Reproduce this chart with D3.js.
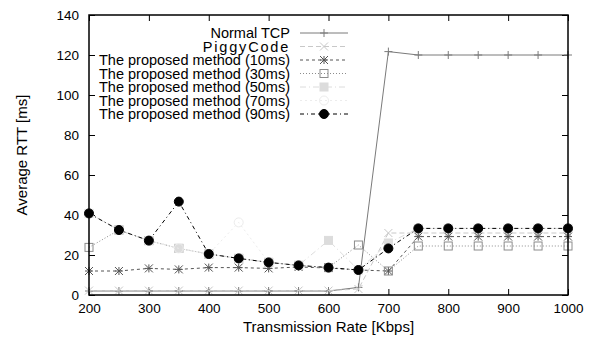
<!DOCTYPE html>
<html>
<head>
<meta charset="utf-8">
<script src="https://cdn.jsdelivr.net/npm/d3@7"></script>
<style>
  body { margin: 0; background: #fff; }
  svg { font-family: "Liberation Sans", Arial, sans-serif; }
</style>
</head>
<body>
<div id="chart"></div>
<script>
// data
const rates = [200, 250, 300, 350, 400, 450, 500, 550, 600, 650, 700, 750, 800, 850, 900, 950, 1000];
const normalTcp = [2, 2, 2, 2, 2, 2, 2, 2, 2, 3.8, 121.7, 120, 120, 120, 120, 120, 120];
const piggyCode = [2.2, 2.2, 2.2, 2.2, 2.2, 2.2, 2.2, 2.2, 2.2, 3, 31, 31, 31, 31, 31, 31, 31];
const m10 = [12, 12, 13.3, 12.8, 13.7, 13.7, 13.3, 14, 13.5, 12.5, 12, 29.2, 29.2, 29.2, 29.2, 29.2, 29.2];
const m30 = [23.8, 32.5, 27.2, 23.3, 20.5, 18.3, 16.3, 14.8, 13.7, 25, 12, 24.5, 24.5, 24.5, 24.5, 24.5, 24.5];
const m50 = [40.8, 32.5, 27.2, 23.3, 20.5, 18.3, 16.3, 14.8, 27.3, 12.5, 26, 33.3, 33.3, 33.3, 33.3, 33.3, 33.3];
const m70 = [40.8, 32.5, 27.2, 23.3, 20.5, 36.3, 16.3, 14.8, 13.7, 12.5, 23.3, 33.3, 33.3, 33.3, 33.3, 33.3, 33.3];
const m90 = [40.8, 32.5, 27.2, 46.7, 20.5, 18.3, 16.3, 14.8, 13.7, 12.5, 23.3, 33.3, 33.3, 33.3, 33.3, 33.3, 33.3];
const xTicks = [200, 300, 400, 500, 600, 700, 800, 900, 1000];
const yTicks = [0, 20, 40, 60, 80, 100, 120, 140];

const series = [
  {name: 'Normal TCP', values: normalTcp, color: '#7a7a7a', dash: null, marker: 'plus'},
  {name: 'PiggyCode', values: piggyCode, color: '#c8c8c8', dash: '5,3', marker: 'cross'},
  {name: 'The proposed method (10ms)', values: m10, color: '#555', dash: '3,3', marker: 'star'},
  {name: 'The proposed method (30ms)', values: m30, color: '#8c8c8c', dash: '1,2', marker: 'square'},
  {name: 'The proposed method (50ms)', values: m50, color: '#dcdcdc', dash: '6,3,1,3', marker: 'fsquare'},
  {name: 'The proposed method (70ms)', values: m70, color: '#ececec', dash: '2,3', marker: 'circle'},
  {name: 'The proposed method (90ms)', values: m90, color: '#000', dash: '4,3,1,3', marker: 'fcircle'}
];

const W = 598, H = 338;
const m = {left: 89, right: 30, top: 15, bottom: 43};

const svg = d3.select('#chart').append('svg').attr('width', W).attr('height', H);

const x = d3.scaleLinear().domain([200, 1000]).range([m.left, W - m.right]);
const y = d3.scaleLinear().domain([0, 140]).range([H - m.bottom, m.top]);

// ticks inside on all sides
const tk = 6;
svg.append('g').attr('transform', 'translate(0,' + (H - m.bottom) + ')')
  .call(d3.axisBottom(x).tickValues(xTicks).tickSize(-tk).tickPadding(8).tickFormat(d => d))
  .call(g => g.select('.domain').remove());
svg.append('g').attr('transform', 'translate(0,' + m.top + ')')
  .call(d3.axisTop(x).tickValues(xTicks).tickSize(-tk).tickFormat(''))
  .call(g => g.select('.domain').remove());
svg.append('g').attr('transform', 'translate(' + m.left + ',0)')
  .call(d3.axisLeft(y).tickValues(yTicks).tickSize(-tk).tickPadding(10))
  .call(g => g.select('.domain').remove());
svg.append('g').attr('transform', 'translate(' + (W - m.right) + ',0)')
  .call(d3.axisRight(y).tickValues(yTicks).tickSize(-tk).tickFormat(''))
  .call(g => g.select('.domain').remove());

svg.selectAll('.tick line').attr('stroke', '#000');
svg.selectAll('.tick text').attr('font-size', 13.5).attr('fill', '#000')
  .attr('font-family', '"Liberation Sans", Arial, sans-serif');

// markers
function drawMarker(g, type, cx, cy, color) {
  const s = 4;
  if (type === 'plus' || type === 'star') {
    g.append('path').attr('d', `M${cx - s},${cy}H${cx + s}M${cx},${cy - s}V${cy + s}`)
      .attr('stroke', color).attr('stroke-width', 1).attr('fill', 'none');
  }
  if (type === 'cross' || type === 'star') {
    g.append('path').attr('d', `M${cx - s},${cy - s}L${cx + s},${cy + s}M${cx - s},${cy + s}L${cx + s},${cy - s}`)
      .attr('stroke', color).attr('stroke-width', 1).attr('fill', 'none');
  }
  if (type === 'square' || type === 'fsquare') {
    g.append('rect').attr('x', cx - 4).attr('y', cy - 4).attr('width', 8).attr('height', 8)
      .attr('fill', type === 'fsquare' ? color : 'none').attr('stroke', color).attr('stroke-width', 1);
  }
  if (type === 'circle' || type === 'fcircle') {
    g.append('circle').attr('cx', cx).attr('cy', cy).attr('r', 4.5)
      .attr('fill', type === 'fcircle' ? color : 'none').attr('stroke', color).attr('stroke-width', 1);
  }
}

const line = d3.line().x((d, i) => x(rates[i])).y(d => y(d));
const plot = svg.append('g');

series.forEach(s => {
  const g = plot.append('g');
  g.append('path').attr('d', line(s.values)).attr('fill', 'none')
    .attr('stroke', s.color).attr('stroke-width', 1)
    .attr('stroke-dasharray', s.dash);
  s.values.forEach((v, i) => drawMarker(g, s.marker, x(rates[i]), y(v), s.color));
});

// legend
const legX = 290, legY0 = 33, legStep = 13.5;
series.forEach((s, i) => {
  const ly = legY0 + i * legStep;
  const t = svg.append('text').attr('x', legX).attr('y', ly).attr('dy', '0.35em')
    .attr('text-anchor', 'end').attr('font-size', 14.5).text(s.name);
  if (s.name === 'PiggyCode') t.attr('letter-spacing', 1.8);
  svg.append('path').attr('d', `M300,${ly}H348`).attr('fill', 'none')
    .attr('stroke', s.color).attr('stroke-width', 1).attr('stroke-dasharray', s.dash);
  drawMarker(svg.append('g'), s.marker, 324, ly, s.color);
});

// frame
svg.append('rect').attr('x', m.left).attr('y', m.top)
  .attr('width', W - m.left - m.right).attr('height', H - m.top - m.bottom)
  .attr('fill', 'none').attr('stroke', '#000').attr('stroke-width', 1.5);

// axis titles
svg.append('text').attr('x', (m.left + W - m.right) / 2).attr('y', 332)
  .attr('text-anchor', 'middle').attr('font-size', 15).text('Transmission Rate [Kbps]');
svg.append('text').attr('transform', 'translate(22,' + ((m.top + H - m.bottom) / 2) + ') rotate(-90)')
  .attr('text-anchor', 'middle').attr('dy', '0.35em').attr('font-size', 15).text('Average RTT [ms]');
</script>
</body>
</html>
